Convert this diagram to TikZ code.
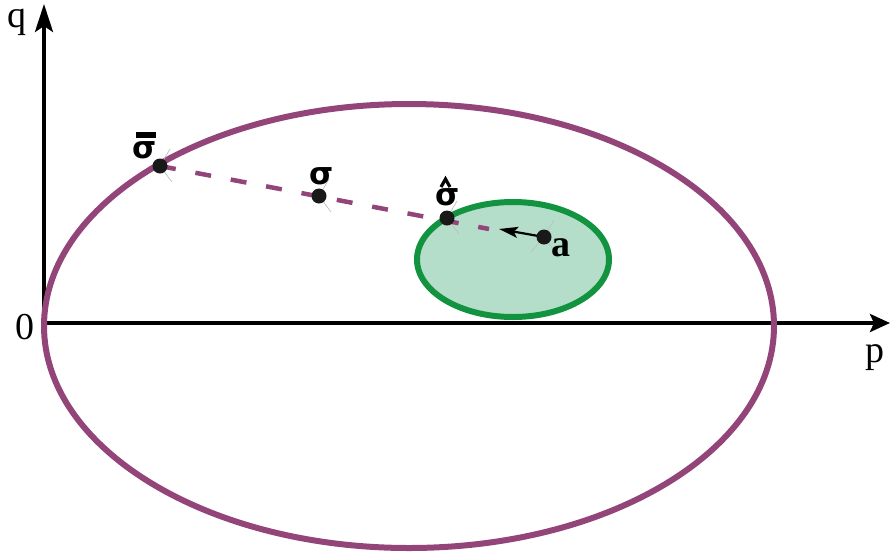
\documentclass[tikz,border=0pt]{standalone}
\usepackage{fontspec}
\setmainfont{Liberation Serif}
\newfontfamily\gfont{DejaVu Sans}
\usetikzlibrary{arrows.meta}
\definecolor{purp}{HTML}{93457A}
\definecolor{grn}{HTML}{12933F}
\definecolor{grnfill}{HTML}{B5DECA}
\tikzset{
  axisline/.style={line width=3.8pt, black},
  bigell/.style={draw=purp, line width=6pt},
  smallell/.style={draw=grn, fill=grnfill, line width=6pt},
  dashline/.style={draw=purp, line width=4.5pt, dash pattern=on 16pt off 20pt},
  dotpt/.style={circle, fill=black!90, inner sep=0pt, minimum size=15pt},
  tick/.style={draw=black!25, line width=0.7pt},
  lab/.style={inner sep=0pt, font=\fontsize{38}{44}\selectfont},
  glab/.style={inner sep=0pt, font=\gfont\bfseries\fontsize{31}{36}\selectfont},
  alab/.style={inner sep=0pt, font=\bfseries\fontsize{38}{44}\selectfont},
}
\begin{document}
\begin{tikzpicture}[x=1pt,y=-1pt]
\useasboundingbox (0,0) rectangle (890,552);
% axes
\coordinate (O) at (44,323);
\coordinate (qtip) at (44,4);
\coordinate (ptip) at (890,323);
\draw[axisline,-{Stealth[length=28pt,width=18pt,inset=6pt]}] (O) -- (qtip);
\draw[axisline,-{Stealth[length=20pt,width=18pt,inset=4pt]}] (O) -- (ptip);
\node[lab] (lq) at (17,22) {q};
\node[lab] (l0) at (25,327) {0};
\node[lab] (lp) at (875,358) {p};
% big ellipse
\draw[bigell] (409,326) ellipse [x radius=365pt, y radius=222pt];
% small ellipse
\draw[smallell] (513,259.5) ellipse [x radius=96pt, y radius=57.5pt];
% points
\coordinate (sb) at (160,166);
\coordinate (s) at (319,196);
\coordinate (sh) at (447,218);
\coordinate (a) at (544,237);
\coordinate (dend) at (489,229);
\coordinate (atip) at (499,229);
% faint ticks
\foreach \p in {sb,s,sh,a}{
  \draw[tick] (\p) -- ++(10,-17);
  \draw[tick] (\p) -- ++(12,16);
}
\draw[tick] (a) -- ++(-13,15);
% dashed line
\draw[dashline] (sb) -- (dend);
% arrow a
\draw[line width=2.2pt, black, -{Stealth[length=19pt,width=11pt,inset=4pt]}] (a) -- (atip);
% dots
\foreach \p in {sb,s,sh,a}{ \node[dotpt] at (\p) {}; }
% labels
\node[glab] (lsb) at (145,150) {σ};
\fill[black] (136,132) rectangle (156,137.5);
\node[glab] (ls) at (322,176) {σ};
\node[glab] (lsh) at (448,197) {σ};
\draw[line width=3.2pt, black] (441,187) -- (445.5,179) -- (450,187);
\node[alab] (la) at (561,248) {a};
\end{tikzpicture}
\end{document}
